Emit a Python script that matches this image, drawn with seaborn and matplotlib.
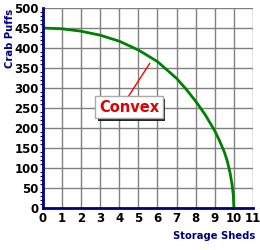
import matplotlib
matplotlib.use("Agg")
import matplotlib.pyplot as plt
import matplotlib.patheffects as pe
import seaborn as sns
import pandas as pd

sns.set_theme(style="white")
plt.rcParams['font.family'] = ['DejaVu Sans']

sheds = [0, 1, 2, 3, 4, 5, 6, 7, 7.5, 8, 8.5, 9, 9.25, 9.5, 9.65, 9.8, 9.9, 9.97, 10]
puffs = [450, 448, 442, 432, 417, 395, 366, 324, 297, 267, 233, 193, 168, 140, 118, 88, 60, 32, 0]
x_ticks = list(range(0, 12))
y_ticks = list(range(0, 501, 50))
label_text = "Convex"
x_title = "Storage Sheds"
y_title = "Crab Puffs"

df = pd.DataFrame({"sheds": sheds, "puffs": puffs})

fig = plt.figure(figsize=(2.6, 2.5), dpi=100)
ax = fig.add_axes([0.165, 0.168, 0.808, 0.8])

ax.set_xlim(0, 11)
ax.set_ylim(0, 500)
ax.set_xticks(x_ticks)
ax.set_yticks(y_ticks)
ax.set_yticks(range(0, 501, 10), minor=True)
ax.grid(True, which="major", color="#808080", linewidth=1.0)
ax.set_axisbelow(True)

sns.lineplot(data=df, x="sheds", y="puffs", color="#008000", linewidth=2.0, ax=ax, sort=False)

navy = "#000080"
for s in ["top", "right"]:
    ax.spines[s].set_visible(False)
for s in ["left", "bottom"]:
    ax.spines[s].set_color(navy)
    ax.spines[s].set_linewidth(2.0)

ax.tick_params(axis="both", which="major", length=0, pad=3,
               labelsize=8.5, labelcolor="black")
ax.tick_params(axis="y", which="minor", length=2, width=0.8, color=navy, direction="out", left=True)
for lab in ax.get_xticklabels() + ax.get_yticklabels():
    lab.set_fontweight("bold")

ax.set_xlabel("")
ax.set_ylabel("")
fig.text(255 / 260, 1 - 236 / 250, x_title, fontsize=7.2, fontweight="bold", color=navy,
         ha="right", va="center")
fig.text(10 / 260, 1 - 9 / 250, y_title, fontsize=7.2, fontweight="bold", color=navy,
         ha="center", va="top", rotation=90)

# pointer line
ax.plot([4.45, 5.6], [277, 362], color="red", linewidth=1.0)
# label box with shadow
t = ax.text(4.5, 252, label_text, fontsize=10.5, fontweight="bold", color="#e00000",
            ha="center", va="center",
            bbox=dict(boxstyle="square,pad=0.25", facecolor="white", edgecolor="#aaaaaa", linewidth=1.0),
            zorder=6)
t.get_bbox_patch().set_path_effects([
    pe.SimplePatchShadow(offset=(2, -2), shadow_rgbFace="black", alpha=0.85),
    pe.Normal(),
])

fig.savefig("out.png", dpi=100)
